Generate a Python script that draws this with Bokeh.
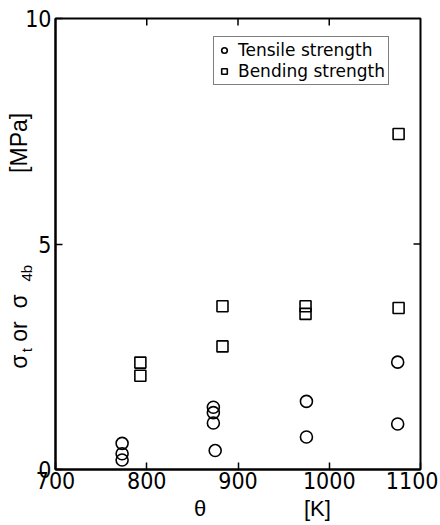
import math
from bokeh.plotting import figure
from bokeh.models import (LinearAxis, FixedTicker, Range1d, Legend, LegendItem)
from bokeh.embed import file_html
from bokeh.resources import INLINE

# ---- data ----
tensile_T = [773, 773, 773, 873, 873, 873, 875, 975, 975, 1075, 1075]
tensile_MPa = [0.58, 0.35, 0.21, 1.38, 1.26, 1.03, 0.42, 1.51, 0.72, 2.38, 1.01]
bending_T = [793, 793, 883, 883, 974, 974, 1076, 1076]
bending_MPa = [2.37, 2.08, 3.62, 2.73, 3.62, 3.45, 3.58, 7.44]
x_ticks = [700, 800, 900, 1000, 1100]
y_ticks = [0, 5, 10]
legend_labels = ["Tensile strength", "Bending strength"]

NB = "\u00a0"
x_title = NB * 8 + "θ" + NB * 16 + "[K]"
y_title_main = NB + "σ" + NB * 2 + "or" + NB * 2 + "σ" + NB * 19 + "[MPa]"
y_title_sub = "t" + NB * 16 + "4b" + NB * 31

TICK_FONT = "Liberation Sans Narrow, DejaVu Sans Condensed, Liberation Sans"
LAB_FONT = "Liberation Sans"

p = figure(width=438, height=525, output_backend="svg", toolbar_location=None,
           x_range=Range1d(x_ticks[0], x_ticks[-1]), y_range=Range1d(y_ticks[0], y_ticks[-1]),
           x_axis_location=None, y_axis_location=None,
           min_border_left=55, min_border_right=18, min_border_top=18, min_border_bottom=56)
p.xgrid.visible = False
p.ygrid.visible = False
p.outline_line_color = "black"
p.outline_line_width = 2
p.background_fill_color = "white"
p.border_fill_color = "white"


def style_axis(ax):
    ax.axis_line_color = "black"
    ax.axis_line_width = 2
    ax.major_tick_in = 7
    ax.major_tick_out = 0
    ax.major_tick_line_width = 1.5
    ax.minor_tick_line_color = None
    ax.major_label_text_font = TICK_FONT
    ax.major_label_text_font_size = "23px"
    ax.major_label_text_color = "black"
    ax.major_label_standoff = 2
    ax.axis_label_text_font = LAB_FONT
    ax.axis_label_text_font_style = "normal"
    ax.axis_label_text_color = "black"


xb = LinearAxis(ticker=FixedTicker(ticks=x_ticks), axis_label=x_title)
style_axis(xb)
xb.axis_label_text_font_size = "22px"
xb.axis_label_standoff = 4
p.add_layout(xb, "below")

yl = LinearAxis(ticker=FixedTicker(ticks=y_ticks), axis_label=y_title_sub)
style_axis(yl)
yl.major_label_standoff = 4
yl.axis_label_text_font_size = "15px"
yl.axis_label_standoff = -13
p.add_layout(yl, "left")

# outer (label-only) axis for the main part of the y title
y_main = LinearAxis(ticker=FixedTicker(ticks=[]), axis_label=y_title_main)
y_main.axis_line_color = None
y_main.major_tick_line_color = None
y_main.minor_tick_line_color = None
y_main.major_tick_out = 0
y_main.major_label_standoff = 0
y_main.axis_label_text_font = LAB_FONT
y_main.axis_label_text_font_style = "normal"
y_main.axis_label_text_font_size = "23px"
y_main.axis_label_text_color = "black"
y_main.axis_label_standoff = -16
p.add_layout(y_main, "left")

# inward ticks on the top and right edges (half of each dash is clipped by the frame)
p.scatter(x_ticks[1:-1], [y_ticks[-1]] * (len(x_ticks) - 2), marker="dash", angle=math.pi / 2,
          size=14, line_color="black", line_width=1.5)
p.scatter([x_ticks[-1]] * (len(y_ticks) - 2), y_ticks[1:-1], marker="dash",
          size=14, line_color="black", line_width=1.5)

r_t = p.scatter(tensile_T, tensile_MPa, marker="circle", size=12,
                fill_color=None, line_color="black", line_width=1.6)
r_b = p.scatter(bending_T, bending_MPa, marker="square", size=11,
                fill_color=None, line_color="black", line_width=1.6)

legend = Legend(items=[LegendItem(label=legend_labels[0], renderers=[r_t]),
                       LegendItem(label=legend_labels[1], renderers=[r_b])],
                location=(158, 384))
legend.label_text_font = "DejaVu Sans"
legend.label_text_font_size = "17px"
legend.label_text_color = "black"
legend.label_height = 20
legend.glyph_height = 14
legend.glyph_width = 14
legend.label_standoff = 7
legend.spacing = 1
legend.padding = 3
legend.margin = 0
legend.border_line_color = "black"
legend.border_line_width = 1.2
legend.background_fill_alpha = 1
p.add_layout(legend, "center")

open("out.html", "w").write(file_html(p, INLINE))
